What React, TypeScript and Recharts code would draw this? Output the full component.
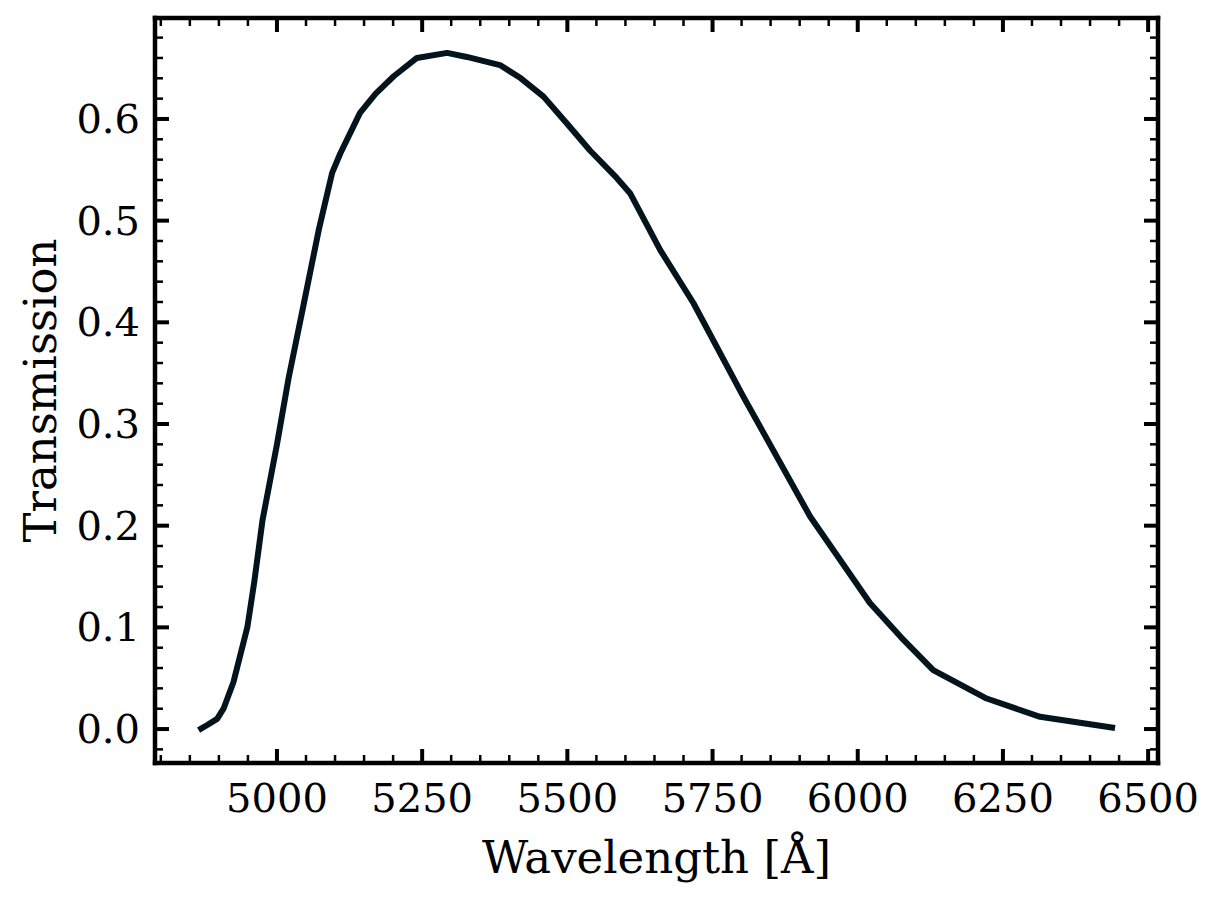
import { LineChart, Line, XAxis, YAxis } from "recharts";

// filter curve
const wavelength = [
  4865, 4880, 4897, 4908, 4925, 4949, 4961, 4975, 5000, 5020, 5045, 5072,
  5095, 5109, 5143, 5170, 5201, 5241, 5293, 5327, 5384, 5420, 5459, 5500,
  5539, 5585, 5608, 5660, 5717, 5803, 5918, 6021, 6075, 6130, 6222, 6314,
  6443,
];
const transmission = [
  -0.001, 0.004, 0.01, 0.02, 0.046, 0.1, 0.145, 0.205, 0.28, 0.345, 0.415,
  0.491, 0.547, 0.566, 0.606, 0.625, 0.642, 0.66, 0.665, 0.661, 0.653, 0.64,
  0.622, 0.595, 0.569, 0.542, 0.527, 0.471, 0.419, 0.327, 0.209, 0.124, 0.09,
  0.058, 0.03, 0.012, 0.001,
];

const xMajorTicks = [5000, 5250, 5500, 5750, 6000, 6250, 6500];
const xMinorTicks = Array.from({ length: 35 }, (_, i) => 4800 + i * 50);
const yMajorTicks = [0, 0.1, 0.2, 0.3, 0.4, 0.5, 0.6];
const yMinorTicks = Array.from({ length: 36 }, (_, i) =>
  Math.round((-0.02 + i * 0.02) * 100) / 100
);

const xDomain = [4790, 6517];
const yDomain = [-0.0334, 0.6993];

const data = wavelength.map((wl, i) => ({ wl, t: transmission[i] }));

const FONT = "'DejaVu Serif', serif";
const isMajorX = (v: number) => xMajorTicks.includes(v);
const isMajorY = (v: number) => yMajorTicks.some((m) => Math.abs(m - v) < 1e-6);

function BottomTick({ x, y, payload }: any) {
  const major = isMajorX(payload.value);
  return (
    <g>
      <line x1={x} x2={x} y1={y} y2={y - (major ? 14 : 8)} stroke="#000" strokeWidth={major ? 4 : 2.5} />
      {major && (
        <text x={x} y={y + 49} textAnchor="middle" fontFamily={FONT} fontSize={40} fill="#000">
          {payload.value}
        </text>
      )}
    </g>
  );
}

function TopTick({ x, y, payload }: any) {
  const major = isMajorX(payload.value);
  return <line x1={x} x2={x} y1={y} y2={y + (major ? 14 : 8)} stroke="#000" strokeWidth={major ? 4 : 2.5} />;
}

function LeftTick({ x, y, payload }: any) {
  const major = isMajorY(payload.value);
  return (
    <g>
      <line x1={x} x2={x + (major ? 14 : 8)} y1={y} y2={y} stroke="#000" strokeWidth={major ? 4 : 2.5} />
      {major && (
        <text x={x - 15} y={y + 14} textAnchor="end" fontFamily={FONT} fontSize={40} fill="#000">
          {payload.value.toFixed(1)}
        </text>
      )}
    </g>
  );
}

function RightTick({ x, y, payload }: any) {
  const major = isMajorY(payload.value);
  return <line x1={x} x2={x - (major ? 14 : 8)} y1={y} y2={y} stroke="#000" strokeWidth={major ? 4 : 2.5} />;
}

const frame = { stroke: "#000", strokeWidth: 4.5, strokeLinecap: "square" as const };

export default function App() {
  return (
    <LineChart width={1215} height={895} data={data} margin={{ top: 9, right: 64, bottom: 0, left: 0 }}>
      <XAxis
        xAxisId="x"
        dataKey="wl"
        type="number"
        domain={xDomain}
        allowDataOverflow
        ticks={xMinorTicks}
        interval={0}
        tickSize={0}
        tickMargin={0}
        tickLine={false}
        axisLine={frame}
        tick={<BottomTick />}
        height={140}
        label={{
          value: "Wavelength [Å]",
          position: "insideBottom",
          offset: 30,
          style: { fontFamily: FONT, fontSize: 45, fill: "#000" },
        }}
      />
      <XAxis
        xAxisId="top"
        orientation="top"
        dataKey="wl"
        type="number"
        domain={xDomain}
        allowDataOverflow
        ticks={xMinorTicks}
        interval={0}
        tickSize={0}
        tickMargin={0}
        tickLine={false}
        axisLine={frame}
        tick={<TopTick />}
        height={1}
      />
      <YAxis
        yAxisId="y"
        type="number"
        domain={yDomain}
        allowDataOverflow
        ticks={yMinorTicks}
        interval={0}
        tickSize={0}
        tickMargin={0}
        tickLine={false}
        axisLine={frame}
        tick={<LeftTick />}
        width={147}
        label={{
          value: "Transmission",
          angle: -90,
          position: "insideLeft",
          offset: 32,
          style: { fontFamily: FONT, fontSize: 45, fill: "#000", textAnchor: "middle" },
        }}
      />
      <YAxis
        yAxisId="right"
        orientation="right"
        type="number"
        domain={yDomain}
        allowDataOverflow
        ticks={yMinorTicks}
        interval={0}
        tickSize={0}
        tickMargin={0}
        tickLine={false}
        axisLine={frame}
        tick={<RightTick />}
        width={1}
      />
      {/* invisible copy so the mirrored top/right axes get drawn */}
      <Line
        xAxisId="top"
        yAxisId="right"
        type="linear"
        dataKey="t"
        stroke="none"
        dot={false}
        activeDot={false}
        isAnimationActive={false}
      />
      <Line
        xAxisId="x"
        yAxisId="y"
        type="linear"
        dataKey="t"
        stroke="#03141c"
        strokeWidth={6}
        strokeLinejoin="round"
        dot={false}
        activeDot={false}
        isAnimationActive={false}
      />
    </LineChart>
  );
}
